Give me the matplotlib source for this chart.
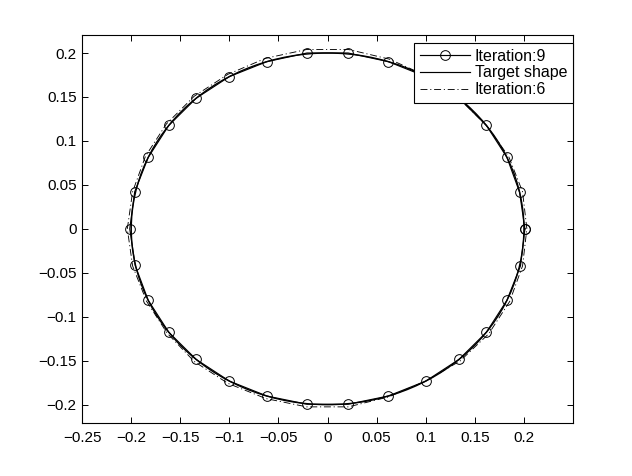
import matplotlib
matplotlib.use("Agg")
import matplotlib.pyplot as plt
from matplotlib.patches import Circle
from matplotlib.lines import Line2D

plt.rcParams['font.family'] = ['Liberation Sans', 'DejaVu Sans']
plt.rcParams['lines.scale_dashes'] = False

# Iteration 9 (markers + solid line), closed polygon
iter9_x = [0.2010, 0.1956, 0.1827, 0.1618, 0.1338, 0.1000, 0.0618, 0.0209,
           -0.0209, -0.0618, -0.1000, -0.1338, -0.1618, -0.1827, -0.1965, -0.2015,
           -0.1960, -0.1827, -0.1618, -0.1338, -0.1000, -0.0618, -0.0209, 0.0209,
           0.0618, 0.1000, 0.1338, 0.1618, 0.1827, 0.1965, 0.2010]
iter9_y = [0.0000, 0.0416, 0.0813, 0.1176, 0.1486, 0.1732, 0.1902, 0.2000,
           0.2000, 0.1902, 0.1732, 0.1486, 0.1176, 0.0813, 0.0420, 0.0000,
           -0.0416, -0.0813, -0.1176, -0.1486, -0.1732, -0.1902, -0.1995, -0.1995,
           -0.1902, -0.1732, -0.1486, -0.1176, -0.0813, -0.0420, 0.0000]

# Iteration 6 (dash-dot), closed polygon
iter6_x = [0.2030, 0.1986, 0.1845, 0.1618, 0.1338, 0.1005, 0.0627, 0.0213,
           -0.0213, -0.0630, -0.1015, -0.1358, -0.1642, -0.1855, -0.1986, -0.2040,
           -0.1986, -0.1845, -0.1634, -0.1358, -0.1015, -0.0627, -0.0212, 0.0212,
           0.0621, 0.1000, 0.1352, 0.1642, 0.1855, 0.1986, 0.2030]
iter6_y = [0.0000, 0.0422, 0.0822, 0.1176, 0.1486, 0.1741, 0.1931, 0.2040,
           0.2040, 0.1940, 0.1758, 0.1509, 0.1193, 0.0826, 0.0422, 0.0000,
           -0.0422, -0.0822, -0.1187, -0.1509, -0.1758, -0.1931, -0.2025, -0.2025,
           -0.1912, -0.1732, -0.1501, -0.1193, -0.0826, -0.0422, 0.0000]

# Target shape: circle
target_center = (0.0, 0.0)
target_radius = 0.2

labels = ['Iteration:9', 'Target shape', 'Iteration:6']
xticks = [-0.25, -0.2, -0.15, -0.1, -0.05, 0, 0.05, 0.1, 0.15, 0.2]
xticklabels = ['\u22120.25', '\u22120.2', '\u22120.15', '\u22120.1', '\u22120.05',
               '0', '0.05', '0.1', '0.15', '0.2']
yticks = [-0.2, -0.15, -0.1, -0.05, 0, 0.05, 0.1, 0.15, 0.2]
yticklabels = ['\u22120.2', '\u22120.15', '\u22120.1', '\u22120.05', '0',
               '0.05', '0.1', '0.15', '0.2']

fig = plt.figure(figsize=(6.32, 4.76), dpi=100)
ax = fig.add_axes([0.13, 0.112, 0.7765, 0.8145])

lw = 0.85
dashdot = (0, (5, 2, 0.8, 2))

ax.plot(iter9_x, iter9_y, '-', color='black', lw=lw, marker='o', ms=7,
        mfc='none', mec='black', mew=0.7, zorder=3)
circ = Circle(target_center, target_radius, fill=False, edgecolor='black', lw=lw * 1.2, zorder=2)
ax.add_patch(circ)
ax.plot(iter6_x, iter6_y, color='black', lw=lw * 0.75, linestyle=dashdot, zorder=2)

ax.set_xlim(-0.25, 0.2499)
ax.set_ylim(-0.2205, 0.2205)
ax.set_xticks(xticks)
ax.set_xticklabels(xticklabels)
ax.set_yticks(yticks)
ax.set_yticklabels(yticklabels)

ax.tick_params(direction='in', length=4, width=0.7, top=True, right=True,
               labelsize=11, colors='black')
ax.tick_params(axis='x', pad=6)
ax.tick_params(axis='y', pad=4)
for sp in ax.spines.values():
    sp.set_linewidth(0.8)
    sp.set_color('black')

handles = [
    Line2D([], [], color='black', lw=lw, marker='o', ms=7, mfc='none', mec='black', mew=0.7),
    Line2D([], [], color='black', lw=lw),
    Line2D([], [], color='black', lw=lw * 0.75, linestyle=dashdot),
]
leg = ax.legend(handles, labels, loc='upper right', bbox_to_anchor=(1.0, 1 - 8 / 388),
                borderaxespad=0, fancybox=False, framealpha=1, edgecolor='black',
                fontsize=11.5, handlelength=3.15, handletextpad=0.3, labelspacing=0.12,
                borderpad=0.35)
leg.get_frame().set_linewidth(0.8)

fig.savefig('out.png', dpi=100, facecolor='white')
